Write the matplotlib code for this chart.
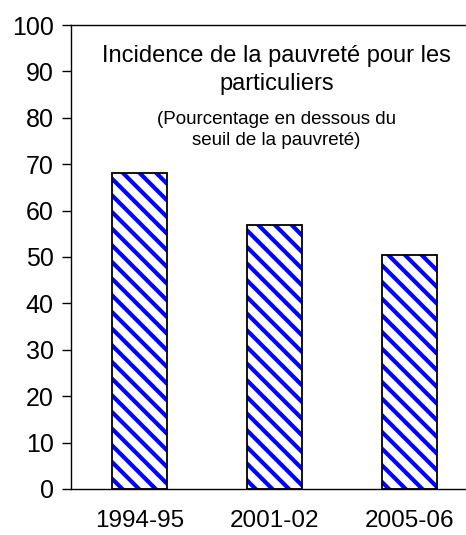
import matplotlib
matplotlib.use('Agg')
import matplotlib.pyplot as plt

plt.rcParams['font.family'] = ['Liberation Sans', 'DejaVu Sans']
plt.rcParams['hatch.linewidth'] = 3.0

# Données
periods = ['1994-95', '2001-02', '2005-06']
incidence = [68.2, 56.9, 50.4]
yticks = list(range(0, 101, 10))

fig = plt.figure(figsize=(4.66, 5.35), dpi=100)
ax = fig.add_axes([71 / 466, 1 - 489 / 535, 1 - 71 / 466, (489 - 25) / 535])

x = range(len(periods))
# hachures bleues, puis contour noir par-dessus
ax.bar(x, incidence, width=0.41, color='white', edgecolor='#0000ff',
       linewidth=0, hatch='\\\\')
ax.bar(x, incidence, width=0.41, fill=False, edgecolor='black', linewidth=1.3)

ax.set_ylim(0, 100)
ax.set_xlim(-0.505, 2.42)
ax.set_yticks(yticks)
ax.set_xticks(list(x))
ax.set_xticklabels(periods)
ax.tick_params(axis='y', labelsize=18, length=6.5, width=1, direction='out', pad=6)
ax.tick_params(axis='x', labelsize=17.5, length=0, pad=15)

ax.spines['right'].set_visible(False)
for s in ['top', 'left', 'bottom']:
    ax.spines[s].set_linewidth(1)

# Titre dans le graphique
ax.text(0.52, 0.957, 'Incidence de la pauvreté pour les\nparticuliers',
        transform=ax.transAxes, ha='center', va='top', fontsize=17,
        linespacing=1.35)
ax.text(0.52, 0.815, '(Pourcentage en dessous du\nseuil de la pauvreté)',
        transform=ax.transAxes, ha='center', va='top', fontsize=13.5,
        linespacing=1.3)

fig.savefig('out.png', dpi=100)
